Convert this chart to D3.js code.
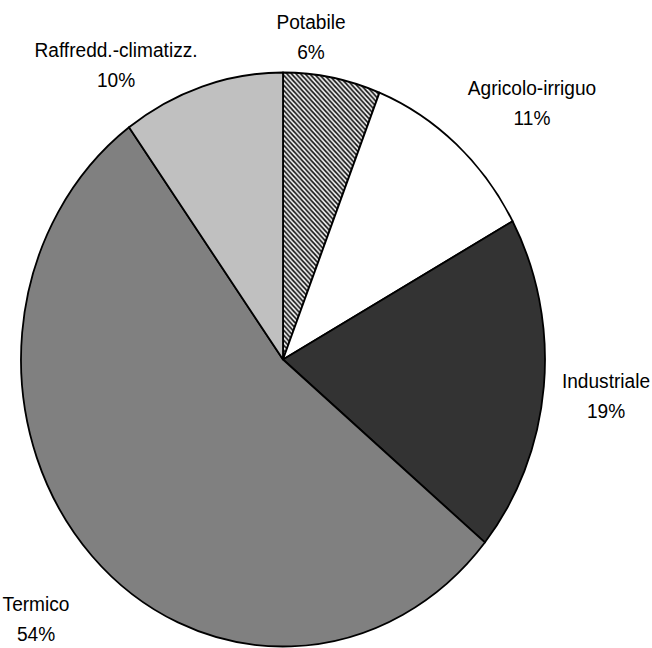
<!DOCTYPE html>
<html>
<head>
<meta charset="utf-8">
<script src="https://cdn.jsdelivr.net/npm/d3@7"></script>
<style>
  html, body { margin: 0; padding: 0; background: #fff; }
  svg { display: block; }
  text { font-family: "Liberation Sans", Arial, sans-serif; fill: #000; }
</style>
</head>
<body>
<svg id="chart" width="652" height="648"></svg>
<script>
// Water use by sector (share of total, %)
const categories = ["Potabile", "Agricolo-irriguo", "Industriale", "Termico", "Raffredd.-climatizz."];
const shares = [6, 11, 19, 54, 10];
const percentLabels = shares.map(v => v + "%");

// Slice fills, in category order
const fills = ["url(#hatch)", "#ffffff", "#333333", "#808080", "#c0c0c0"];

// Label anchor points (centre x, first-line baseline y)
const labelAnchors = [[311, 29], [532, 95], [606, 388], [36, 611], [116, 57]];

const width = 652, height = 648;
const cx = 283, cy = 359.5;
const ry = 287, rx = 262;

const svg = d3.select("#chart");

// Diagonal hatch for the drinking-water slice
const defs = svg.append("defs");
const pat = defs.append("pattern")
  .attr("id", "hatch")
  .attr("patternUnits", "userSpaceOnUse")
  .attr("width", 5).attr("height", 5);
pat.append("rect").attr("width", 5).attr("height", 5).attr("fill", "#fff");
pat.append("path")
  .attr("d", "M0,0L5,5M-1,4L1,6M4,-1L6,1")
  .attr("stroke", "#000").attr("stroke-width", 1.6);

const pie = d3.pie().sort(null).value(d => d);
const arcs = pie(shares);
const arc = d3.arc().innerRadius(0).outerRadius(ry);

// Pie drawn as an ellipse: horizontal axis compressed
const g = svg.append("g")
  .attr("transform", `translate(${cx},${cy}) scale(${rx / ry},1)`);

g.selectAll("path.slice")
  .data(arcs)
  .join("path")
  .attr("class", "slice")
  .attr("d", arc)
  .attr("fill", (d, i) => fills[i])
  .attr("stroke", "#000")
  .attr("stroke-width", 1.8)
  .attr("stroke-linejoin", "round")
  .attr("vector-effect", "non-scaling-stroke");

// Category + percentage labels
const labels = svg.append("g").selectAll("g.label")
  .data(categories)
  .join("g")
  .attr("class", "label")
  .attr("transform", (d, i) => `translate(${labelAnchors[i][0]},${labelAnchors[i][1]}) scale(0.91,1)`);

labels.append("text")
  .attr("text-anchor", "middle")
  .attr("font-size", 21)
  .text(d => d);

labels.append("text")
  .attr("text-anchor", "middle")
  .attr("font-size", 21)
  .attr("y", 30)
  .text((d, i) => percentLabels[i]);
</script>
</body>
</html>
